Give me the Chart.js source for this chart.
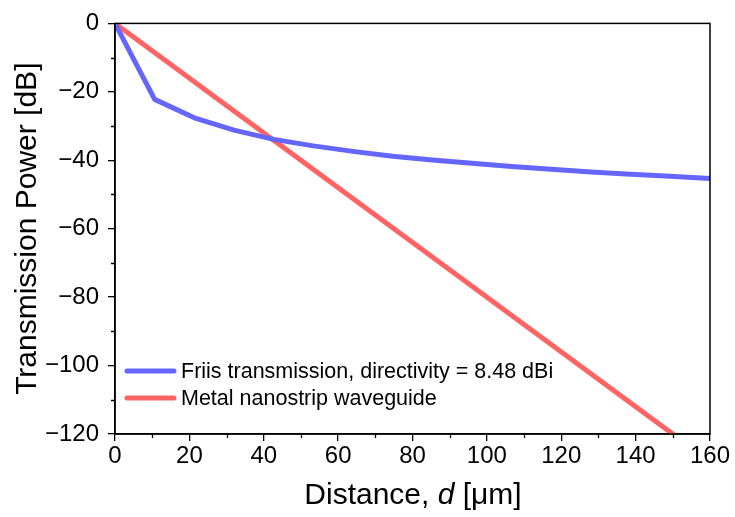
<!DOCTYPE html>
<html>
<head>
<meta charset="utf-8">
<script src="https://cdn.jsdelivr.net/npm/chart.js@4/dist/chart.umd.min.js"></script>
<style>
html,body{margin:0;padding:0;background:#fff;}
#wrap{width:735px;height:517px;}
</style>
</head>
<body>
<div id="wrap"><canvas id="c" width="735" height="517"></canvas></div>
<script>
// Data
const friisDistance = [0, 10.67, 21.33, 32, 42.67, 53.33, 64, 74.67, 85.33, 96, 106.67, 117.33, 128, 138.67, 149.33, 160];
const friisPower    = [0, -22.2, -27.6, -31.2, -33.9, -35.8, -37.4, -38.8, -39.9, -40.9, -41.8, -42.6, -43.4, -44.1, -44.7, -45.3];
const waveguideDistance = [0, 160];
const waveguidePower    = [0, -128];
const seriesLabels = ['Friis transmission, directivity = 8.48 dBi', 'Metal nanostrip waveguide'];
const xMajorTicks = [0, 20, 40, 60, 80, 100, 120, 140, 160];
const yMajorTicks = [0, -20, -40, -60, -80, -100, -120];
const xMinorTicks = [10, 30, 50, 70, 90, 110, 130, 150];
const yMinorTicks = [-10, -30, -50, -70, -90, -110];

const FONT = "'Liberation Sans', Arial, sans-serif";
const BLUE = 'rgb(102,102,255)';
const RED = 'rgb(255,100,100)';

function pts(xs, ys){ return xs.map((x,i)=>({x:x, y:ys[i]})); }

const framePlugin = {
  id: 'frame',
  afterDraw(chart){
    const ctx = chart.ctx, a = chart.chartArea;
    const xs = chart.scales.x, ys = chart.scales.y;
    ctx.save();
    ctx.strokeStyle = '#000';
    ctx.lineWidth = 1.5;
    ctx.strokeRect(a.left, a.top, a.right - a.left, a.bottom - a.top);
    // minor ticks
    ctx.lineWidth = 1.3;
    ctx.beginPath();
    xMinorTicks.forEach(v => {
      const px = Math.round(xs.getPixelForValue(v)) + 0.5;
      ctx.moveTo(px, a.bottom); ctx.lineTo(px, a.bottom + 4);
    });
    yMinorTicks.forEach(v => {
      const py = Math.round(ys.getPixelForValue(v)) + 0.5;
      ctx.moveTo(a.left, py); ctx.lineTo(a.left - 4, py);
    });
    ctx.stroke();

    // Y title
    ctx.fillStyle = '#000';
    ctx.font = '30px ' + FONT;
    ctx.textAlign = 'center';
    ctx.textBaseline = 'middle';
    ctx.save();
    ctx.translate(28, (a.top + a.bottom) / 2);
    ctx.rotate(-Math.PI / 2);
    ctx.fillText('Transmission Power [dB]', 0, 0);
    ctx.restore();

    // X title with italic d
    const parts = [['Distance, ', 'normal'], ['d', 'italic'], [' [μm]', 'normal']];
    let total = 0;
    const widths = parts.map(p => { ctx.font = (p[1] === 'italic' ? 'italic ' : '') + '30px ' + FONT; const w = ctx.measureText(p[0]).width; total += w; return w; });
    let x = 413 - total / 2;
    ctx.textAlign = 'left';
    ctx.textBaseline = 'middle';
    parts.forEach((p, i) => {
      ctx.font = (p[1] === 'italic' ? 'italic ' : '') + '30px ' + FONT;
      ctx.fillText(p[0], x, 496);
      x += widths[i];
    });

    // Legend inside plot
    const rows = [371, 398];
    chart.data.datasets.forEach((ds, i) => {
      const y = rows[i];
      ctx.strokeStyle = ds.borderColor;
      ctx.lineWidth = 5;
      ctx.lineCap = 'round';
      ctx.beginPath();
      ctx.moveTo(127, y); ctx.lineTo(174, y);
      ctx.stroke();
      ctx.fillStyle = '#000';
      ctx.font = '21.5px ' + FONT;
      ctx.textAlign = 'left';
      ctx.textBaseline = 'middle';
      ctx.fillText(ds.label, 181, y + 1);
    });
    ctx.restore();
  }
};

new Chart(document.getElementById('c'), {
  type: 'line',
  data: {
    datasets: [
      { label: seriesLabels[0], data: pts(friisDistance, friisPower), borderColor: BLUE, backgroundColor: BLUE, borderWidth: 5, pointRadius: 0, tension: 0, borderJoinStyle: 'round' },
      { label: seriesLabels[1], data: pts(waveguideDistance, waveguidePower), borderColor: RED, backgroundColor: RED, borderWidth: 5, pointRadius: 0, tension: 0 }
    ]
  },
  options: {
    responsive: false,
    animation: false,
    layout: { padding: { left: 0, right: 25, top: 20, bottom: 0 } },
    plugins: { legend: { display: false }, tooltip: { enabled: false } },
    scales: {
      x: {
        type: 'linear', min: 0, max: 160,
        afterBuildTicks: s => { s.ticks = xMajorTicks.map(v => ({value: v})); },
        afterFit: s => { s.height = 83; },
        ticks: { color: '#000', font: { family: FONT, size: 24 }, padding: 1, maxRotation: 0, autoSkip: false },
        grid: { display: true, drawOnChartArea: false, drawTicks: true, tickLength: 7, color: '#000', lineWidth: 1.3 },
        border: { display: true, color: '#000', width: 1.5 }
      },
      y: {
        type: 'linear', min: -120, max: 0,
        afterBuildTicks: s => { s.ticks = yMajorTicks.map(v => ({value: v})); },
        afterFit: s => { s.width = 115; },
        ticks: { color: '#000', font: { family: FONT, size: 24 }, padding: 9, autoSkip: false,
          callback: v => (v < 0 ? '\u2212' + Math.abs(v) : String(v)) },
        grid: { display: true, drawOnChartArea: false, drawTicks: true, tickLength: 7, color: '#000', lineWidth: 1.3 },
        border: { display: true, color: '#000', width: 1.5 }
      }
    }
  },
  plugins: [framePlugin]
});
</script>
</body>
</html>
